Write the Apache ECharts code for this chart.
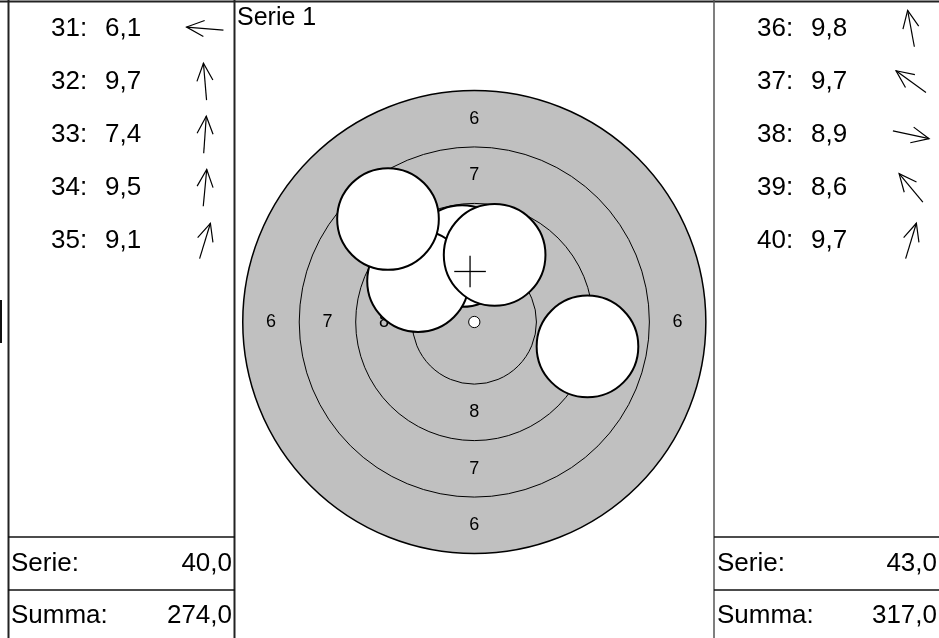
<!DOCTYPE html>
<html><head><meta charset="utf-8">
<script src="https://cdn.jsdelivr.net/npm/echarts@6/dist/echarts.min.js"></script>
<style>html,body{margin:0;padding:0;background:#fff}#c{width:939px;height:638px}</style>
</head><body><div id="c"></div>
<script>
// ---- data (target units: mm, x to the right, y up) ----
const seriesTitle = 'Serie 1';
const leftShotNumbers = ['31', '32', '33', '34', '35'];
const leftScores = [6.1, 9.7, 7.4, 9.5, 9.1];
const leftShotX = [-12.06, -0.27, 0.62, 0.34, 1.35];
const leftShotY = [0.98, 3.19, 8.85, 3.61, 4.42];
const rightShotNumbers = ['36', '37', '38', '39', '40'];
const rightScores = [9.8, 9.7, 8.9, 8.6, 9.7];
const rightShotX = [-0.54, -2.49, 5.01, -3.82, 0.9];
const rightShotY = [2.92, 1.81, -1.08, 4.56, 2.97];
const ringRadii = [10.25, 7.75, 5.25, 2.75, 0.25];
const ringLabelValues = [6, 7, 8];
const ringLabelRadii = [9.0, 6.5, 4.0];
const bulletRadius = 2.25;
const footerLabels = ['Serie:', 'Summa:'];
const leftFooterValues = [40, 274];
const rightFooterValues = [43, 317];

const FONT = '"Liberation Sans", Arial, sans-serif';
const fmt = v => v.toFixed(1).replace('.', ',');

const chart = echarts.init(document.getElementById('c'), null, {renderer: 'canvas'});

// ring label data: value in four directions
const labelData = [];
ringLabelValues.forEach((v, i) => {
  const r = ringLabelRadii[i];
  labelData.push([0, r, v], [-r, 0, v], [0, -r, v], [r, 0, v]);
});

const shotData = rightShotX.map((x, i) => [x, rightShotY[i]]);
const meanX = rightShotX.reduce((a, b) => a + b, 0) / rightShotX.length;
const meanY = rightShotY.reduce((a, b) => a + b, 0) / rightShotY.length;

function listSeries(gridIdx, nums, scores, xs, ys) {
  return {
    type: 'custom', xAxisIndex: gridIdx, yAxisIndex: gridIdx,
    data: scores.map((s, i) => [0, i]),
    silent: true,
    renderItem: function (params, api) {
      const row = api.value(1);
      const p = api.coord([0, row]);
      const x0 = p[0], y = p[1];
      const ang = Math.atan2(ys[row], xs[row]);
      const ts = {fontSize: 26, fontFamily: FONT, fill: '#000', verticalAlign: 'middle', align: 'left'};
      return {type: 'group', children: [
        {type: 'text', x: x0 + 43, y: y, style: Object.assign({text: nums[row] + ':'}, ts)},
        {type: 'text', x: x0 + 97, y: y, style: Object.assign({text: fmt(scores[row])}, ts)},
        {type: 'group', x: x0 + 197, y: y, rotation: ang, children: [
          {type: 'line', shape: {x1: -18.5, y1: 0, x2: 18.5, y2: 0}, style: {stroke: '#000', lineWidth: 1.2}},
          {type: 'polyline', shape: {points: [[1, -8], [18.5, 0], [1, 8]]}, style: {stroke: '#000', fill: null, lineWidth: 1.2}}
        ]}
      ]};
    }
  };
}

const option = {
  animation: false,
  backgroundColor: '#fff',
  title: {text: seriesTitle, left: 237, top: 6, padding: 0, textStyle: {fontSize: 25, fontWeight: 'normal', fontFamily: FONT, color: '#000'}},
  grid: [
    {left: 237.1, top: 84.8, width: 474.4, height: 474.4},
    {left: 8, top: 2, width: 226, height: 265.5},
    {left: 714, top: 2, width: 226, height: 265.5}
  ],
  xAxis: [
    {type: 'value', gridIndex: 0, min: -10.5, max: 10.5, show: false},
    {type: 'value', gridIndex: 1, min: 0, max: 226, show: false},
    {type: 'value', gridIndex: 2, min: 0, max: 226, show: false}
  ],
  yAxis: [
    {type: 'value', gridIndex: 0, min: -10.5, max: 10.5, show: false},
    {type: 'category', gridIndex: 1, data: leftShotNumbers, inverse: true, show: false},
    {type: 'category', gridIndex: 2, data: rightShotNumbers, inverse: true, show: false}
  ],
  series: [
    { // rings
      type: 'custom', xAxisIndex: 0, yAxisIndex: 0, z: 1, silent: true,
      data: ringRadii.map(r => [0, 0, r]),
      renderItem: function (params, api) {
        const c = api.coord([api.value(0), api.value(1)]);
        const r = api.size([api.value(2), 0])[0];
        const idx = params.dataIndex;
        let fill = null, lw = 1;
        if (idx === 0) { fill = '#c0c0c0'; lw = 1.5; }
        if (idx === ringRadii.length - 1) { fill = '#fff'; }
        return {type: 'circle', shape: {cx: c[0], cy: c[1], r: r}, style: {fill: fill, stroke: '#000', lineWidth: lw}};
      }
    },
    { // ring numbers
      type: 'custom', xAxisIndex: 0, yAxisIndex: 0, z: 2, silent: true,
      data: labelData,
      renderItem: function (params, api) {
        const c = api.coord([api.value(0), api.value(1)]);
        return {type: 'text', x: c[0], y: c[1], style: {text: String(api.value(2)), fontSize: 18, fontFamily: FONT, fill: '#000', align: 'center', verticalAlign: 'middle'}};
      }
    },
    { // shots
      type: 'custom', xAxisIndex: 0, yAxisIndex: 0, z: 3, silent: true,
      data: shotData,
      renderItem: function (params, api) {
        const c = api.coord([api.value(0), api.value(1)]);
        const r = api.size([bulletRadius, 0])[0];
        return {type: 'circle', z2: params.dataIndex, shape: {cx: c[0], cy: c[1], r: r}, style: {fill: '#fff', stroke: '#000', lineWidth: 2}};
      }
    },
    { // mean point cross
      type: 'custom', xAxisIndex: 0, yAxisIndex: 0, z: 4, silent: true,
      data: [[meanX, meanY]],
      renderItem: function (params, api) {
        const c = api.coord([api.value(0), api.value(1)]);
        const h = api.size([0.7, 0])[0];
        return {type: 'group', children: [
          {type: 'line', shape: {x1: c[0] - h, y1: c[1], x2: c[0] + h, y2: c[1]}, style: {stroke: '#000', lineWidth: 1.3}},
          {type: 'line', shape: {x1: c[0], y1: c[1] - h, x2: c[0], y2: c[1] + h}, style: {stroke: '#000', lineWidth: 1.3}}
        ]};
      }
    },
    listSeries(1, leftShotNumbers, leftScores, leftShotX, leftShotY),
    listSeries(2, rightShotNumbers, rightScores, rightShotX, rightShotY)
  ],
  graphic: []
};

// panel frames and footer texts
const g = [];
const lineStyle = {stroke: '#222', lineWidth: 2};
g.push({type: 'line', shape: {x1: 0, y1: 1.5, x2: 939, y2: 1.5}, style: lineStyle});
g.push({type: 'line', shape: {x1: 8.5, y1: 0, x2: 8.5, y2: 638}, style: lineStyle});
g.push({type: 'line', shape: {x1: 234.5, y1: 0, x2: 234.5, y2: 638}, style: lineStyle});
g.push({type: 'line', shape: {x1: 714, y1: 0, x2: 714, y2: 638}, style: {stroke: '#555', lineWidth: 1.5}});
[537, 590].forEach(y => {
  g.push({type: 'line', shape: {x1: 8, y1: y, x2: 235, y2: y}, style: {stroke: '#111', lineWidth: 1.5}});
  g.push({type: 'line', shape: {x1: 714, y1: y, x2: 939, y2: y}, style: {stroke: '#111', lineWidth: 1.5}});
});
g.push({type: 'rect', shape: {x: 0, y: 300, width: 2, height: 43}, style: {fill: '#111'}});
const ft = {fontSize: 26, fontFamily: FONT, fill: '#000', verticalAlign: 'middle'};
[564, 616].forEach((y, i) => {
  g.push({type: 'text', x: 11, y: y, style: Object.assign({text: footerLabels[i], align: 'left'}, ft)});
  g.push({type: 'text', x: 232, y: y, style: Object.assign({text: fmt(leftFooterValues[i]), align: 'right'}, ft)});
  g.push({type: 'text', x: 717, y: y, style: Object.assign({text: footerLabels[i], align: 'left'}, ft)});
  g.push({type: 'text', x: 937, y: y, style: Object.assign({text: fmt(rightFooterValues[i]), align: 'right'}, ft)});
});
option.graphic = g;

chart.setOption(option);
</script>
</body></html>
